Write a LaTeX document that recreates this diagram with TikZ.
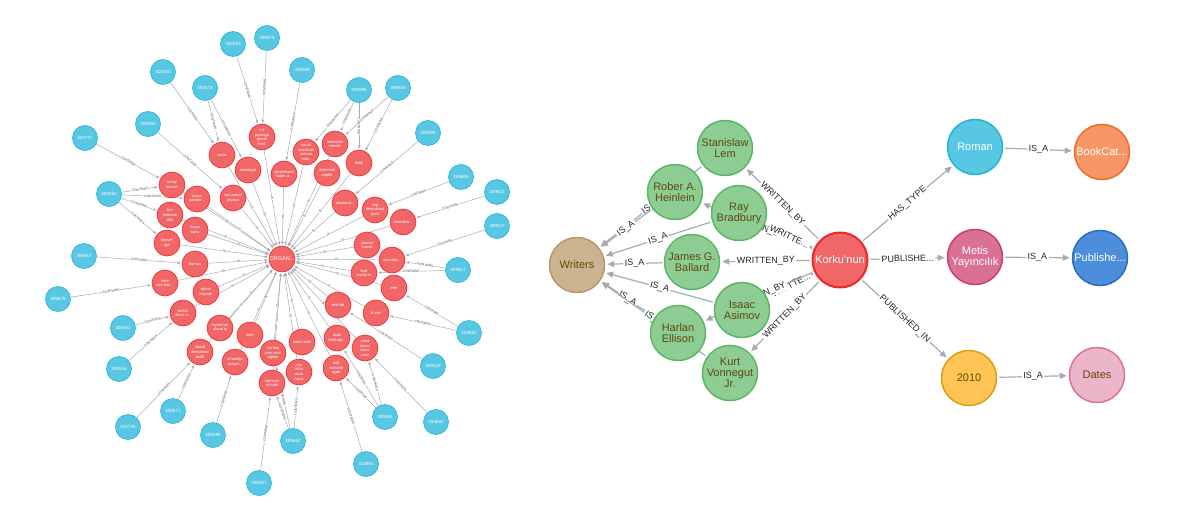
\documentclass[tikz,border=0pt]{standalone}
\usepackage{fontspec}
\setmainfont{Liberation Sans}
\usetikzlibrary{arrows.meta}
\pgfdeclarelayer{bg}
\pgfsetlayers{bg,main}
\definecolor{nblue}{HTML}{57C7E3}  \definecolor{nbluel}{HTML}{23B3D7}
\definecolor{nred}{HTML}{F16667}   \definecolor{nredl}{HTML}{EB2728}
\definecolor{ngreen}{HTML}{8DCC93} \definecolor{ngreenl}{HTML}{5DB665}
\definecolor{ntan}{HTML}{CDB491}   \definecolor{ntanl}{HTML}{B8986A}
\definecolor{norange}{HTML}{F79767}\definecolor{norangel}{HTML}{F36924}
\definecolor{npink}{HTML}{DA7194}  \definecolor{npinkl}{HTML}{CC3C6C}
\definecolor{nblue2}{HTML}{4C8EDA} \definecolor{nblue2l}{HTML}{2870C2}
\definecolor{nyellow}{HTML}{FFC454}\definecolor{nyellowl}{HTML}{D7A013}
\definecolor{nrose}{HTML}{ECB5C9}  \definecolor{nrosel}{HTML}{DA7298}
\definecolor{ntext}{HTML}{604A0E}
\definecolor{edgec}{HTML}{A5ABB6}
\begin{document}
\begin{tikzpicture}[x=1pt, y=-1pt,
    bnode/.style={circle, fill=nblue, draw=nbluel, line width=.6pt, minimum size=25pt, inner sep=0pt, text=white, font=\fontsize{4.5}{5}\selectfont},
    rnode/.style={circle, fill=nred, draw=nredl, line width=.6pt, minimum size=26pt, inner sep=0pt, text=white, align=center, font=\fontsize{4}{4.6}\selectfont},
    ledge/.style={draw=edgec, line width=.5pt, -{Triangle[length=3pt,width=2.4pt]}, shorten >=1pt},
    llab/.style={midway, sloped, fill=white, inner sep=.4pt, text=black!70, font=\fontsize{3.3}{3.3}\selectfont},
    wnode/.style={circle, minimum size=55pt, inner sep=0pt, line width=1.5pt, align=center, font=\fontsize{11}{11}\selectfont},
    redge/.style={draw=edgec, line width=1.2pt, -{Triangle[length=7pt,width=6pt]}, shorten >=2pt, shorten <=2pt},
    rlab/.style={midway, sloped, fill=white, inner sep=1.5pt, text=black!85, font=\fontsize{9}{9}\selectfont}]
\useasboundingbox (0,0) rectangle (1192,519);
% left graph
\node[rnode, font=\fontsize{5.5}{6}\selectfont] (c) at (282,259) {ORGAN...};
\foreach \n/\x/\y/\t in {
    r1/262/137/{mil\\piyango\\genel\\müd.}, r2/222/155/{sana}, r3/248/170/{selaniyye},
    r4/306/152/{suudi\\arabistan\\uzman\\mec.}, r5/335/144/{uzmanlar\\meclis}, r6/359/163/{dirlik},
    r7/284/174/{ukrainhane\\haber a...}, r8/327/173/{direnmek\\cephe}, r9/172/185/{umay\\kuvvet},
    r10/197/199/{rusya\\parlam...}, r11/233/198/{ayc petrol\\piyasa}, r12/170/215/{bm\\cenevre\\ofis},
    r13/195/230/{rusya\\hava}, r14/167/243/{kuvvet\\igd}, r15/195/264/{humus},
    r16/165/283/{kore\\cumhuri...}, r17/206/292/{ajans\\kaynak}, r18/183/313/{baltık\\deniz n...},
    r19/345/203/{uluslarar...}, r20/375/210/{cep\\demokrasi\\parti}, r21/403/222/{demokra...},
    r22/367/245/{courier\\transit}, r23/392/260/{sancakt...}, r24/364/273/{ford\\trucks'ın},
    r25/394/288/{ede}, r26/338/305/{eski'de}, r27/376/313/{\&~edc},
    r28/220/328/{myanmar\\ulusal iş}, r29/250/335/{meri}, r30/200/352/{ulusal\\demokrasi\\birlik},
    r31/235/362/{ortadoğu\\araştır...}, r32/273/353/{hürkuş\\yeni nesil\\eğitim}, r33/302/342/{anka male},
    r34/299/372/{orta\\irtifa\\uzun\\hava}, r35/272/383/{cemiyet\\el-hadi}, r36/337/338/{atak\\helikopt...},
    r37/336/368/{milli\\muharip\\uçak}, r38/365/348/{anka\\insan\\hava\\aracı}}
  \node[rnode] (\n) at (\x,\y) {\t};
\foreach \n/\x/\y/\t in {
    b1/233/44/332063, b2/267/38/309579, b3/163/72/310260, b4/205/88/309573,
    b5/302/70/309569, b6/359/90/309595, b7/398/88/309600, b8/148/124/309560,
    b9/85/138/333737, b10/428/133/309586, b11/109/194/309552, b12/461/177/309606,
    b13/497/192/309613, b14/497/226/309572, b15/84/256/309567, b16/458/270/309617,
    b17/58/299/309578, b18/123/328/309561, b19/119/369/309554, b20/469/333/309631,
    b21/433/366/309619, b22/173/411/309571, b23/128/427/310795, b24/213/435/309585,
    b25/385/417/309651, b26/436/422/334632, b27/293/441/309652, b28/366/464/323891,
    b29/259/483/309657}
  \node[bnode] (\n) at (\x,\y) {\t};
\begin{pgfonlayer}{bg}
  \foreach \r in {1,...,38}
    \draw[ledge] (r\r) -- node[llab]{IS} (c);
  \foreach \a/\b in {b1/r1, b2/r1, b3/r2, b4/r2, b4/r3, b5/r7, b6/r4, b6/r5, b6/r6,
      b7/r5, b7/r6, b8/r11, b9/r9, b10/r19, b11/r9, b11/r10, b11/r12, b11/r14,
      b12/r20, b13/r21, b14/r23, b15/r15, b16/r23, b16/r24, b17/r16, b18/r18,
      b19/r18, b20/r27, b20/r25, b21/r26, b22/r30, b23/r30, b24/r31, b25/r36,
      b25/r37, b25/r38, b26/r38, b27/r35, b27/r34, b27/r32, b28/r37, b29/r35}
    \draw[ledge] (\a) -- node[llab]{CONTAINS} (\b);
\end{pgfonlayer}
% right graph
\node[wnode, fill=ntan, draw=ntanl, text=ntext] (wr) at (577,265) {Writers};
\foreach \n/\x/\y/\t in {w1/725/148/{Stanislaw\\Lem}, w2/675/192/{Rober A.\\Heinlein},
    w3/739/213/{Ray\\Bradbury}, w4/692/262/{James G.\\Ballard}, w5/742/310/{Isaac\\Asimov},
    w6/678/333/{Harlan\\Ellison}, w7/730/373/{Kurt\\Vonnegut\\Jr.}}
  \node[wnode, fill=ngreen, draw=ngreenl, text=ntext] (\n) at (\x,\y) {\t};
\node[wnode, fill=nred, draw=nredl, line width=2pt, text=white] (bk) at (840,260) {Korku'nun};
\node[wnode, fill=nblue, draw=nbluel, text=white] (rm) at (975,147) {Roman};
\node[wnode, fill=norange, draw=norangel, text=white] (bc) at (1102,152) {BookCat...};
\node[wnode, fill=npink, draw=npinkl, text=white] (mt) at (975,257) {Metis\\Yayıncılık};
\node[wnode, fill=nblue2, draw=nblue2l, text=white] (pb) at (1100,258) {Publishe...};
\node[wnode, fill=nyellow, draw=nyellowl, text=ntext] (yr) at (969,378) {2010};
\node[wnode, fill=nrose, draw=nrosel, text=ntext] (dt) at (1097,375) {Dates};
\begin{pgfonlayer}{bg}
  \foreach \w/\t in {1/{WRITTEN\_BY}, 2/{WRITTEN\_BY}, 3/{WRITTE...}, 4/{WRITTEN\_BY},
      5/{WRITTE...}, 6/{WRITTEN\_BY}, 7/{WRITTEN\_BY}}
    \draw[redge] (bk) -- node[rlab]{\t} (w\w);
  \foreach \w in {1,...,7}
    \draw[redge] (w\w) -- node[rlab]{IS\_A} (wr);
  \draw[redge] (bk) -- node[rlab]{HAS\_TYPE} (rm);
  \draw[redge] (bk) -- node[rlab]{PUBLISHE...} (mt);
  \draw[redge] (bk) -- node[rlab]{PUBLISHED\_IN} (yr);
  \draw[redge] (rm) -- node[rlab]{IS\_A} (bc);
  \draw[redge] (mt) -- node[rlab]{IS\_A} (pb);
  \draw[redge] (yr) -- node[rlab]{IS\_A} (dt);
\end{pgfonlayer}
\end{tikzpicture}
\end{document}
